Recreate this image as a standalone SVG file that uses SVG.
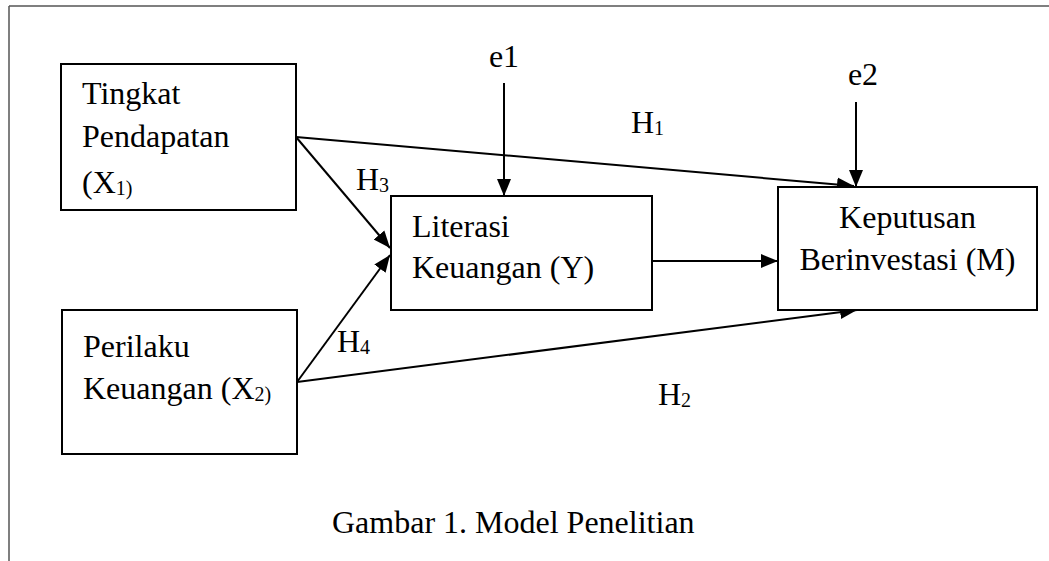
<svg xmlns="http://www.w3.org/2000/svg" width="1049" height="561" viewBox="0 0 1049 561">
<style>
.t{font-family:"Liberation Serif","Times New Roman",serif;font-size:32px;fill:#000}
.s{font-size:20px}
.box{fill:#fff;stroke:#000;stroke-width:2}
.ln{stroke:#000;stroke-width:2;fill:none}
</style>
<defs>
<marker id="ah" markerUnits="userSpaceOnUse" markerWidth="18" markerHeight="16" viewBox="0 0 18 16" refX="17" refY="8" orient="auto">
<path d="M0,1 L17,8 L0,15 Z" fill="#000"/>
</marker>
</defs>
<rect width="1049" height="561" fill="#fff"/>
<g id="frame">
<line x1="9" y1="6" x2="1049" y2="6" stroke="#555" stroke-width="1.5"/>
<line x1="9" y1="6" x2="9" y2="561" stroke="#555" stroke-width="1.5"/>
</g>
<g id="connectors">
<line class="ln" x1="296" y1="137" x2="854" y2="186" marker-end="url(#ah)"/>
<line class="ln" x1="296" y1="137" x2="390" y2="248" marker-end="url(#ah)"/>
<line class="ln" x1="297" y1="382" x2="390" y2="255" marker-end="url(#ah)"/>
<line class="ln" x1="297" y1="382" x2="857" y2="310" marker-end="url(#ah)"/>
<line class="ln" x1="652" y1="261" x2="778" y2="261" marker-end="url(#ah)"/>
<line class="ln" x1="504" y1="83" x2="504" y2="196" marker-end="url(#ah)"/>
<line class="ln" x1="856" y1="102" x2="856" y2="187" marker-end="url(#ah)"/>
</g>
<g id="labels">
<text class="t" x="631" y="133">H<tspan class="s" dy="2">1</tspan></text>
<text class="t" x="658" y="405">H<tspan class="s" dy="2">2</tspan></text>
<text class="t" x="356" y="190">H<tspan class="s" dy="2">3</tspan></text>
<text class="t" x="337" y="352">H<tspan class="s" dy="2">4</tspan></text>
<text class="t" x="504" y="67" text-anchor="middle">e1</text>
<text class="t" x="863" y="85" text-anchor="middle">e2</text>
</g>
<g id="node-x1">
<rect class="box" x="61" y="64" width="235" height="146"/>
<text class="t" x="82" y="104">Tingkat</text>
<text class="t" x="82" y="147">Pendapatan</text>
<text class="t" x="82" y="193">(X<tspan class="s" dy="2">1)</tspan></text>
</g>
<g id="node-x2">
<rect class="box" x="62" y="310" width="235" height="144"/>
<text class="t" x="83" y="357">Perilaku</text>
<text class="t" x="83" y="399">Keuangan (X<tspan class="s" dy="2">2)</tspan></text>
</g>
<g id="node-y">
<rect class="box" x="391" y="196" width="261" height="114"/>
<text class="t" x="412" y="237">Literasi</text>
<text class="t" x="412" y="278">Keuangan (Y)</text>
</g>
<g id="node-m">
<rect class="box" x="778" y="187" width="259" height="123"/>
<text class="t" x="907.5" y="228" text-anchor="middle">Keputusan</text>
<text class="t" x="907.5" y="270" text-anchor="middle">Berinvestasi (M)</text>
</g>
<g id="caption">
<text class="t" x="332" y="533">Gambar 1. Model Penelitian</text>
</g>
</svg>
